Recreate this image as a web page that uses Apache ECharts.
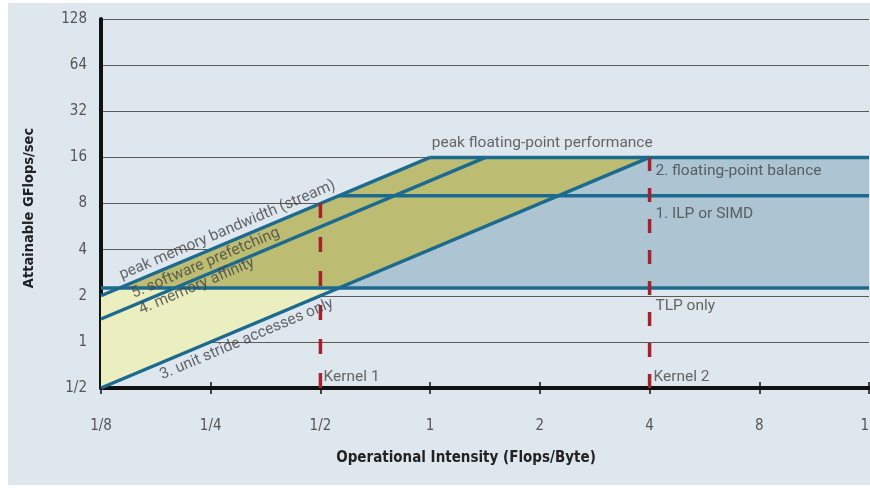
<!DOCTYPE html>
<html>
<head>
<meta charset="utf-8">
<script src="https://cdn.jsdelivr.net/npm/echarts@6/dist/echarts.min.js"></script>
<style>
  html, body { margin: 0; padding: 0; background: #ffffff; }
  #chart { width: 870px; height: 488px; }
</style>
</head>
<body>
<div id="chart"></div>
<script>
// Tick labels (powers of two)
const xTickLabels = ['1/8', '1/4', '1/2', '1', '2', '4', '8', '16'];
const yTickLabels = ['1/2', '1', '2', '4', '8', '16', '32', '64', '128'];

// Memory-bandwidth ceilings: [operational intensity, GFlops/sec]
const streamBandwidth = [[0.125, 2], [1, 16]];
const softwarePrefetch = [[0.125, 1.41], [1.42, 16]];
const unitStride = [[0.125, 0.5], [4, 16]];

// Compute ceilings
const peakFlops = [[1, 16], [16, 16]];
const ilpSimd = [[0.5625, 9], [16, 9]];
const tlpOnly = [[0.125, 2.25], [16, 2.25]];

// Kernels
const kernel1 = [[0.5, 0.5], [0.5, 9]];
const kernel2 = [[4, 0.5], [4, 16]];

// Shaded regions
const lowRegion = [[0.125, 0.5], [0.5625, 2.25], [0.1406, 2.25], [0.125, 2]];
const memoryRegion = [[0.1406, 2.25], [1, 16], [4, 16], [0.5625, 2.25]];
const computeRegion = [[0.5625, 2.25], [4, 16], [16, 16], [16, 2.25]];

// Annotation texts and anchors
const slopeLabelText = ['peak memory bandwidth (stream)', '5. software prefetching', '4. memory affinity', '3. unit stride accesses only'];
const slopeLabelAt = [[0.278, 5.35], [0.242, 3.26], [0.229, 2.31], [0.314, 1.04]];
const roofLabelText = ['peak floating-point performance', '2. floating-point balance', '1. ILP or SIMD', 'TLP only', 'Kernel 1', 'Kernel 2'];
const roofLabelAt = [[1.01, 19.7], [4.15, 12.97], [4.15, 6.8], [4.15, 1.71], [0.51, 0.59], [4.1, 0.59]];

const BLUE = '#1d6a8f';
const RED = '#a3222c';
const TEXT = '#444444';
const TICK_FONT = '"Liberation Sans Narrow", "DejaVu Sans Condensed", Roboto, sans-serif';
const LABEL_FONT = 'Roboto, "Noto Sans", sans-serif';

function labelOf(list, value, offset) {
  const e = Math.round(Math.log2(value));
  return list[e + offset] || '';
}

function region(points, color) {
  return {
    type: 'custom',
    silent: true,
    z: 1,
    data: points,
    renderItem: function (params, api) {
      if (params.dataIndex !== 0) return;
      return {
        type: 'polygon',
        shape: { points: points.map(function (p) { return api.coord(p); }) },
        style: { fill: color }
      };
    }
  };
}

function ceiling(points, color, width, dash) {
  return {
    type: 'line',
    data: points,
    symbol: 'none',
    silent: true,
    z: dash ? 4 : 3,
    lineStyle: { color: color, width: width, type: dash || 'solid', cap: 'butt' }
  };
}

function labels(texts, at, rotate, align) {
  return {
    type: 'scatter',
    symbolSize: 0,
    silent: true,
    z: 5,
    data: texts.map(function (t, i) { return { value: at[i], name: t }; }),
    label: {
      show: true,
      position: 'inside',
      formatter: '{b}',
      rotate: rotate,
      align: align,
      verticalAlign: 'middle',
      color: TEXT,
      fontFamily: LABEL_FONT,
      fontSize: 15.5
    }
  };
}

const chart = echarts.init(document.getElementById('chart'));
chart.setOption({
  animation: false,
  backgroundColor: '#ffffff',
  graphic: [{
    type: 'rect',
    z: -10,
    silent: true,
    shape: { x: 8, y: 3, width: 862, height: 482 },
    style: { fill: '#dfe7ee' }
  }],
  grid: { left: 101, right: 1, top: 19, bottom: 100, containLabel: false, outerBoundsMode: 'none' },
  xAxis: [{
    type: 'log', logBase: 2, min: 0.125, max: 16, interval: 1,
    name: 'Operational Intensity (Flops/Byte)',
    nameLocation: 'middle', nameGap: 63,
    nameTextStyle: { fontFamily: TICK_FONT, fontWeight: 'bold', fontSize: 15, color: '#222', padding: [0, 38, 0, 0] },
    axisLine: { lineStyle: { color: '#111', width: 4 } },
    axisTick: { show: true, inside: false, length: 6, lineStyle: { color: '#111', width: 1.5 } },
    axisLabel: {
      margin: 31, fontFamily: TICK_FONT, fontSize: 15, color: '#555',
      formatter: function (v) { return labelOf(xTickLabels, v, 3); }
    },
    splitLine: { show: false }
  }, {
    type: 'log', logBase: 2, min: 0.125, max: 16, interval: 1,
    position: 'bottom', offset: 0,
    axisLine: { show: false },
    axisTick: { show: true, inside: true, length: 6, lineStyle: { color: '#111', width: 1.5 } },
    axisLabel: { show: false },
    splitLine: { show: false }
  }],
  yAxis: {
    type: 'log', logBase: 2, min: 0.5, max: 128, interval: 1,
    name: 'Attainable GFlops/sec',
    nameLocation: 'middle', nameGap: 64,
    nameTextStyle: { fontFamily: TICK_FONT, fontWeight: 'bold', fontSize: 14.5, color: '#222', padding: [0, 9, 0, 0] },
    axisLine: { lineStyle: { color: '#111', width: 4 } },
    axisTick: { show: false },
    axisLabel: {
      margin: 14, fontFamily: TICK_FONT, fontSize: 15, color: '#555',
      formatter: function (v) { return labelOf(yTickLabels, v, 1); }
    },
    splitLine: { show: true, lineStyle: { color: '#5a5a5a', width: 1 } }
  },
  series: [
    region(lowRegion, '#ebeebf'),
    region(memoryRegion, '#bcbd72'),
    region(computeRegion, '#adc5d2'),
    ceiling(streamBandwidth, BLUE, 3.5),
    ceiling(softwarePrefetch, BLUE, 3.5),
    ceiling(unitStride, BLUE, 3.5),
    ceiling(peakFlops, BLUE, 3.5),
    ceiling(ilpSimd, BLUE, 3.5),
    ceiling(tlpOnly, BLUE, 3.5),
    ceiling(kernel1, RED, 3.5, [15, 19]),
    ceiling(kernel2, RED, 3.5, [14, 17]),
    labels(slopeLabelText, slopeLabelAt, 23, 'center'),
    labels(roofLabelText, roofLabelAt, 0, 'left')
  ]
});
</script>
</body>
</html>
